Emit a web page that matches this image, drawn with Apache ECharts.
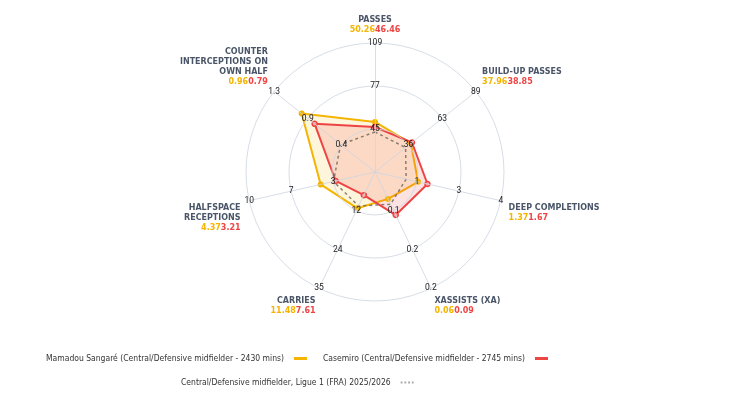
<!DOCTYPE html>
<html>
<head>
<meta charset="utf-8">
<script src="https://cdn.jsdelivr.net/npm/echarts@6/dist/echarts.min.js"></script>
<style>
  html, body { margin: 0; padding: 0; background: #fff; }
  #container { width: 750px; height: 403px; }
</style>
</head>
<body>
<div id="container"></div>
<script>
var myChart = echarts.init(document.getElementById('container'));

// metric names, clockwise from the top (line breaks as in the picture)
var metrics = ['PASSES', 'BUILD-UP PASSES', 'DEEP COMPLETIONS', 'XASSISTS (XA)', 'CARRIES', 'HALFSPACE\nRECEPTIONS', 'COUNTER\nINTERCEPTIONS ON\nOWN HALF'];
// axis range of each spoke (3 rings between min and max)
var axisMin = [13, 9.7, 0, 0.01, 0.8, 0.17, 0];
var axisMax = [109, 89.2, 4, 0.226, 35, 9.89, 1.32];
var tickDecimals = [0, 0, 0, 1, 0, 0, 1];

var sangareName = 'Mamadou Sangaré (Central/Defensive midfielder - 2430 mins)';
var casemiroName = 'Casemiro (Central/Defensive midfielder - 2745 mins)';
var averageName = 'Central/Defensive midfielder, Ligue 1 (FRA) 2025/2026';

var sangare = [50.26, 37.96, 1.37, 0.06, 11.48, 4.37, 0.96];
var casemiro = [46.46, 38.85, 1.67, 0.09, 7.61, 3.21, 0.79];
var average = [42.8, 33.8, 0.99, 0.07, 10.8, 3.38, 0.45];

var yellow = '#f5b400';
var red = '#ef4444';

// echarts radar runs counter-clockwise, so feed the spokes in reverse
var order = [0, 6, 5, 4, 3, 2, 1];
function pick(arr) { return order.map(function (k) { return arr[k]; }); }

var indicators = order.map(function (k, j) {
  var a = j * 2 * Math.PI / order.length;
  var x = -Math.sin(a), y = Math.cos(a);
  return {
    name: metrics[k],
    min: axisMin[k],
    max: axisMax[k],
    nameTextStyle: {
      align: x > 0.1 ? 'left' : (x < -0.1 ? 'right' : 'center'),
      verticalAlign: y >= 0 ? 'bottom' : 'top'
    },
    axisLabel: {
      formatter: function (v) { return (+v).toFixed(tickDecimals[k]); }
    }
  };
});

var legendFont = { color: '#333', fontSize: 8.5, fontFamily: 'DejaVu Sans Condensed, DejaVu Sans, sans-serif', padding: [0, 5, 0, 0] };

var option = {
  backgroundColor: '#fff',
  legend: [
    {
      top: 349,
      left: 41,
      align: 'right',
      itemWidth: 13,
      itemHeight: 3,
      itemGap: 16,
      icon: 'rect',
      textStyle: legendFont,
      data: [
        { name: sangareName, itemStyle: { color: yellow, borderWidth: 0 } },
        { name: casemiroName, itemStyle: { color: red, borderWidth: 0 } }
      ]
    },
    {
      top: 373,
      left: 176,
      align: 'right',
      itemWidth: 13,
      itemHeight: 2,
      icon: 'path://M0,0h2v2h-2zM4,0h2v2h-2zM8,0h2v2h-2zM12,0h2v2h-2z',
      textStyle: legendFont,
      data: [
        { name: averageName, itemStyle: { color: '#aaa', borderWidth: 0 } }
      ]
    }
  ],
  radar: {
    z: 3,
    center: [375, 172],
    radius: 129,
    splitNumber: 3,
    shape: 'circle',
    indicator: indicators,
    axisNameGap: 8,
    axisName: {
      color: '#4a5568',
      fontFamily: 'DejaVu Sans',
      fontWeight: 'bold',
      fontSize: 8,
      lineHeight: 10,
      formatter: function (name) {
        var i = metrics.indexOf(name);
        return '{n|' + name + '}\n{a|' + sangare[i].toFixed(2) + '}{b|' + casemiro[i].toFixed(2) + '}';
      },
      rich: {
        n: { color: '#4a5568', fontFamily: 'DejaVu Sans', fontWeight: 'bold', fontSize: 8, lineHeight: 10 },
        a: { color: yellow, fontFamily: 'DejaVu Sans', fontWeight: 'bold', fontSize: 8, lineHeight: 10 },
        b: { color: red, fontFamily: 'DejaVu Sans', fontWeight: 'bold', fontSize: 8, lineHeight: 10 }
      }
    },
    splitLine: { lineStyle: { color: 'rgba(205, 212, 224, 0.8)', width: 1 } },
    splitArea: { show: false },
    axisLine: { lineStyle: { color: 'rgba(205, 212, 224, 0.8)', width: 1 } },
    axisTick: { show: false },
    axisLabel: {
      show: true,
      margin: 0,
      align: 'center',
      verticalAlign: 'middle',
      showMinLabel: false,
      color: '#222',
      fontSize: 8.5,
      fontFamily: 'Roboto'
    }
  },
  series: [
    {
      type: 'radar',
      z: 2,
      data: [
        {
          name: sangareName,
          value: pick(sangare),
          symbol: 'circle',
          symbolSize: 6,
          lineStyle: { color: yellow, width: 2 },
          itemStyle: { color: yellow },
          areaStyle: { color: 'rgba(248, 190, 30, 0.22)' }
        },
        {
          name: casemiroName,
          value: pick(casemiro),
          symbol: 'circle',
          symbolSize: 5,
          lineStyle: { color: red, width: 2 },
          itemStyle: { color: '#f7a3a3', borderColor: red, borderWidth: 1.5 },
          areaStyle: { color: 'rgba(239, 68, 68, 0.22)' }
        },
        {
          name: averageName,
          value: pick(average),
          symbol: 'none',
          lineStyle: { color: 'rgba(110, 100, 90, 0.8)', width: 1.5, type: [3, 3] },
          itemStyle: { color: '#aaa' }
        }
      ]
    }
  ]
};

myChart.setOption(option);
</script>
</body>
</html>
